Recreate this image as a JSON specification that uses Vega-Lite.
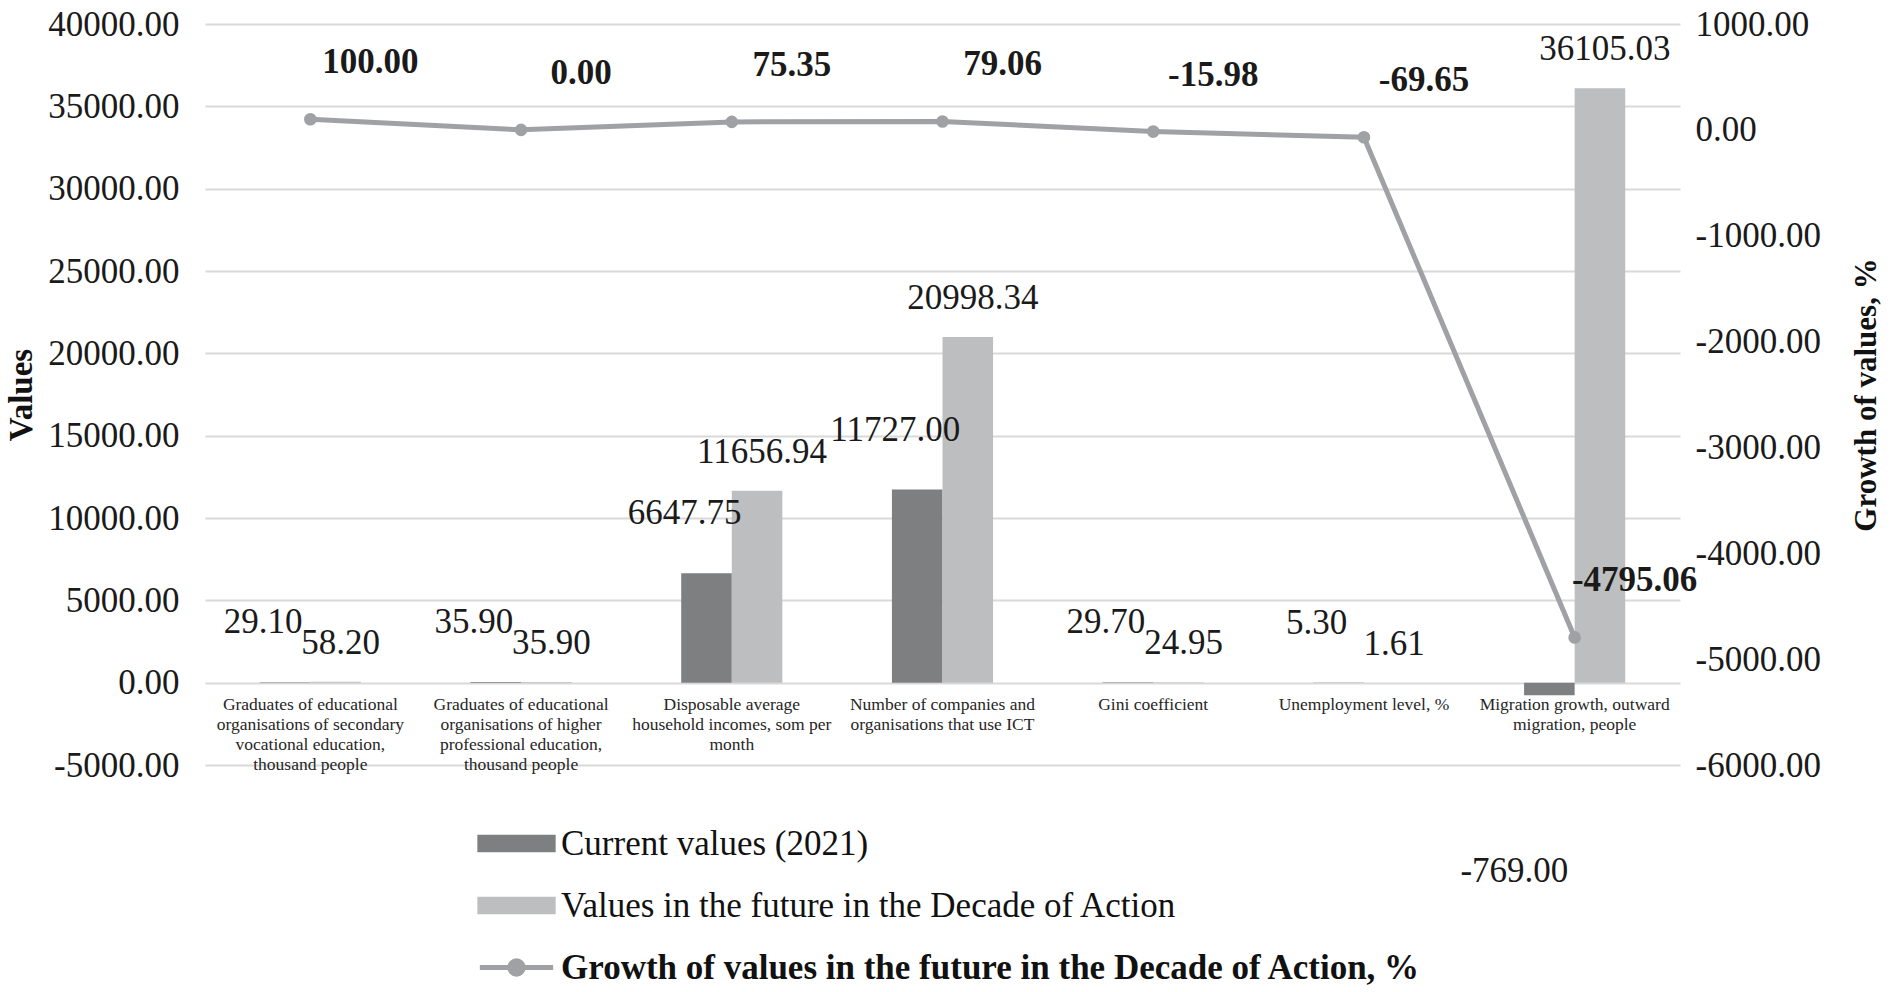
{
  "$schema": "https://vega.github.io/schema/vega-lite/v6.json",
  "width": 1475,
  "height": 741,
  "autosize": "none",
  "padding": {"left": 205, "top": 24, "right": 212, "bottom": 227},
  "background": "white",
  "config": {
    "font": "Liberation Serif",
    "view": {"stroke": null},
    "locale": {
      "number": {"decimal": ".", "thousands": ",", "grouping": [3], "currency": ["", ""], "minus": "-"}
    },
    "axis": {"labelColor": "#1a1a1a", "titleColor": "#111111"},
    "text": {"font": "Liberation Serif", "fontSize": 35, "color": "#1a1a1a", "baseline": "middle"}
  },
  "datasets": {
    "bars": [
      {"indicator": "Graduates of educational\norganisations of secondary\nvocational education,\nthousand people", "series": "Current values (2021)", "value": 29.10},
      {"indicator": "Graduates of educational\norganisations of secondary\nvocational education,\nthousand people", "series": "Values in the future in the Decade of Action", "value": 58.20},
      {"indicator": "Graduates of educational\norganisations of higher\nprofessional education,\nthousand people", "series": "Current values (2021)", "value": 35.90},
      {"indicator": "Graduates of educational\norganisations of higher\nprofessional education,\nthousand people", "series": "Values in the future in the Decade of Action", "value": 35.90},
      {"indicator": "Disposable average\nhousehold incomes, som per\nmonth", "series": "Current values (2021)", "value": 6647.75},
      {"indicator": "Disposable average\nhousehold incomes, som per\nmonth", "series": "Values in the future in the Decade of Action", "value": 11656.94},
      {"indicator": "Number of companies and\norganisations that use ICT", "series": "Current values (2021)", "value": 11727.00},
      {"indicator": "Number of companies and\norganisations that use ICT", "series": "Values in the future in the Decade of Action", "value": 20998.34},
      {"indicator": "Gini coefficient", "series": "Current values (2021)", "value": 29.70},
      {"indicator": "Gini coefficient", "series": "Values in the future in the Decade of Action", "value": 24.95},
      {"indicator": "Unemployment level, %", "series": "Current values (2021)", "value": 5.30},
      {"indicator": "Unemployment level, %", "series": "Values in the future in the Decade of Action", "value": 1.61},
      {"indicator": "Migration growth, outward\nmigration, people", "series": "Current values (2021)", "value": -769.00},
      {"indicator": "Migration growth, outward\nmigration, people", "series": "Values in the future in the Decade of Action", "value": 36105.03}
    ],
    "growth": [
      {"indicator": "Graduates of educational\norganisations of secondary\nvocational education,\nthousand people", "growth": 100.00},
      {"indicator": "Graduates of educational\norganisations of higher\nprofessional education,\nthousand people", "growth": 0.00},
      {"indicator": "Disposable average\nhousehold incomes, som per\nmonth", "growth": 75.35},
      {"indicator": "Number of companies and\norganisations that use ICT", "growth": 79.06},
      {"indicator": "Gini coefficient", "growth": -15.98},
      {"indicator": "Unemployment level, %", "growth": -69.65},
      {"indicator": "Migration growth, outward\nmigration, people", "growth": -4795.06}
    ]
  },
  "encoding": {
    "x": {
      "field": "indicator",
      "type": "nominal",
      "sort": null,
      "scale": {"paddingInner": 0.52, "paddingOuter": 0.26},
      "axis": {
        "title": null,
        "orient": "bottom",
        "offset": -82.33,
        "domain": false,
        "ticks": false,
        "grid": false,
        "labelAngle": 0,
        "labelFontSize": 17.5,
        "labelLineHeight": 20,
        "labelPadding": 13,
        "labelBaseline": "top",
        "labelLimit": 400,
        "labelOverlap": false,
        "labelBound": false,
        "labelColor": "#262626",
        "labelExpr": "split(datum.label, '\\n')"
      }
    }
  },
  "layer": [
    {
      "data": {"name": "bars"},
      "encoding": {
        "xOffset": {
          "field": "series",
          "type": "nominal",
          "scale": {"domain": ["Current values (2021)", "Values in the future in the Decade of Action"], "paddingInner": 0}
        },
        "y": {
          "field": "value",
          "type": "quantitative",
          "scale": {"domain": [-5000, 40000], "nice": false, "zero": false},
          "axis": {
            "orient": "left",
            "title": "Values",
            "titleFontSize": 33,
            "titleFontWeight": "bold",
            "titlePadding": 9,
            "labelFontSize": 35,
            "labelPadding": 26,
            "format": ".2f",
            "values": [-5000, 0, 5000, 10000, 15000, 20000, 25000, 30000, 35000, 40000],
            "domain": false,
            "ticks": false,
            "grid": true,
            "gridColor": "#d9d9d9",
            "gridWidth": 2
          }
        }
      },
      "layer": [
        {
          "mark": {"type": "bar"},
          "encoding": {
            "color": {
              "field": "series",
              "type": "nominal",
              "scale": {
                "domain": ["Current values (2021)", "Values in the future in the Decade of Action", "Growth of values in the future in the Decade of Action, %"],
                "range": ["#7e7f81", "#bdbec0", "#9fa1a4"]
              },
              "legend": {
                "orient": "none",
                "legendX": 270,
                "legendY": 778,
                "title": null,
                "direction": "vertical",
                "symbolSize": 6084,
                "symbolStrokeWidth": 5,
                "labelFontSize": 35,
                "labelOffset": 3,
                "rowPadding": 2,
                "labelLimit": 1000,
                "labelColor": "#111111",
                "encode": {
                  "symbols": {
                    "update": {
                      "shape": {"signal": "datum.index === 2 ? 'M-0.94,0H0.94M0.17,0A0.17,0.17 0 1,1 -0.17,0A0.17,0.17 0 1,1 0.17,0Z' : 'M-0.94,-0.16H0.94V0.16H-0.94Z'"},
                      "fill": {"scale": "color", "field": "value"},
                      "stroke": {"scale": "color", "field": "value"},
                      "opacity": {"value": 1},
                      "fillOpacity": {"value": 1}
                    }
                  },
                  "labels": {
                    "update": {
                      "fontWeight": {"signal": "datum.index === 2 ? 'bold' : 'normal'"}
                    }
                  }
                }
              }
            }
          }
        },
        {
          "transform": [{"filter": "datum.series === 'Current values (2021)' && datum.value >= 0"}],
          "mark": {"type": "text", "dx": -22, "dy": -60},
          "encoding": {
            "text": {"field": "value", "type": "quantitative", "format": ".2f"}
          }
        },
        {
          "transform": [{"filter": "datum.series === 'Current values (2021)' && datum.value < 0"}],
          "mark": {"type": "text", "dx": -35, "dy": 176},
          "encoding": {
            "text": {"field": "value", "type": "quantitative", "format": ".2f"}
          }
        },
        {
          "transform": [{"filter": "datum.series === 'Values in the future in the Decade of Action'"}],
          "mark": {"type": "text", "dx": 5, "dy": -39},
          "encoding": {
            "text": {"field": "value", "type": "quantitative", "format": ".2f"}
          }
        }
      ]
    },
    {
      "data": {"name": "growth"},
      "encoding": {
        "y": {
          "field": "growth",
          "type": "quantitative",
          "scale": {"domain": [-6000, 1000], "nice": false, "zero": false},
          "axis": {
            "orient": "right",
            "title": "Growth of values, %",
            "titleAngle": 270,
            "titleFontSize": 31,
            "titleFontWeight": "bold",
            "titlePadding": 62,
            "labelFontSize": 35,
            "labelPadding": 15,
            "format": ".2f",
            "values": [-6000, -5000, -4000, -3000, -2000, -1000, 0, 1000],
            "domain": false,
            "ticks": false,
            "grid": false
          }
        }
      },
      "layer": [
        {
          "mark": {"type": "line", "strokeWidth": 5, "point": {"filled": true, "size": 160}},
          "encoding": {
            "color": {"datum": "Growth of values in the future in the Decade of Action, %", "type": "nominal"}
          }
        },
        {
          "mark": {"type": "text", "dx": 60, "dy": -57, "fontWeight": "bold"},
          "encoding": {
            "text": {"field": "growth", "type": "quantitative", "format": ".2f"}
          }
        }
      ]
    }
  ],
  "resolve": {"scale": {"y": "independent"}}
}
